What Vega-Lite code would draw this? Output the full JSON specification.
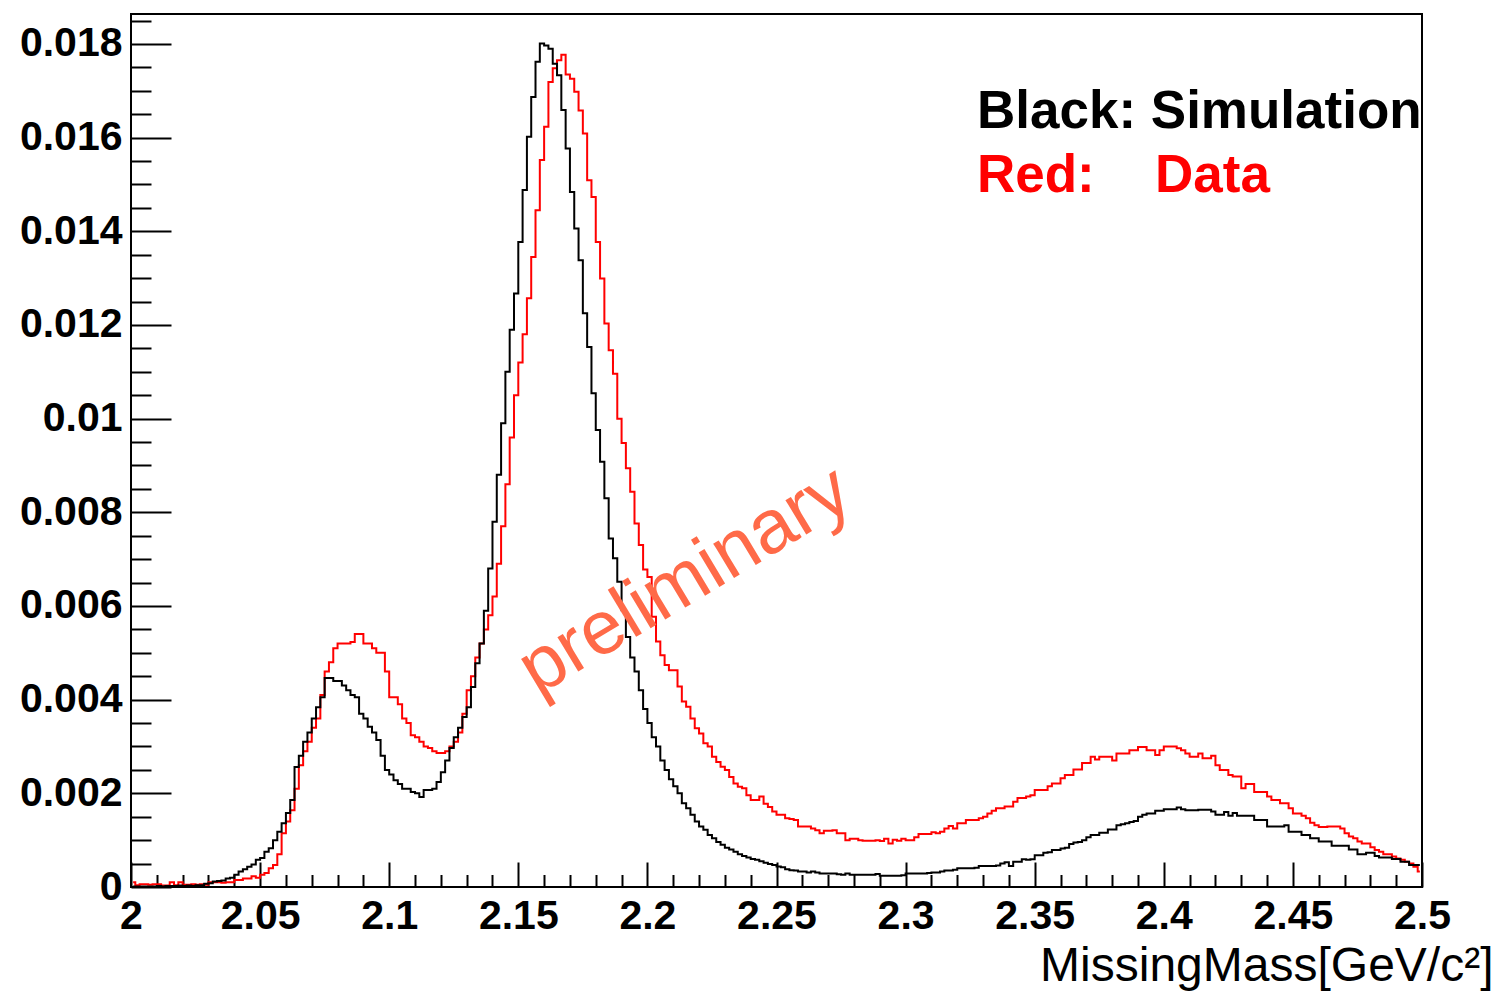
{
  "$schema": "https://vega.github.io/schema/vega-lite/v6.json",
  "width": 1291,
  "height": 873,
  "autosize": {"type": "none"},
  "padding": {"left": 131, "top": 14, "right": 81, "bottom": 107},
  "background": "white",
  "config": {
    "view": {"stroke": "black", "strokeWidth": 2},
    "font": "Liberation Sans",
    "axis": {"domain": false, "grid": false, "tickColor": "black", "labelColor": "black", "titleColor": "black"}
  },
  "datasets": {
    "bins": [
      {"m":2.00083,"sim":0.00001,"dat":0.0001},{"m":2.0025,"sim":0.00001,"dat":0.00004},{"m":2.00417,"sim":0.00001,"dat":0.00006},
      {"m":2.00583,"sim":0.00001,"dat":0.00006},{"m":2.0075,"sim":0.00001,"dat":0.00005},{"m":2.00917,"sim":0.00001,"dat":0.00006},
      {"m":2.01083,"sim":0.00002,"dat":0.00006},{"m":2.0125,"sim":0.00001,"dat":0.00003},{"m":2.01417,"sim":0.00002,"dat":0.00003},
      {"m":2.01583,"sim":0.00002,"dat":0.0001},{"m":2.0175,"sim":0.00002,"dat":0.00004},{"m":2.01917,"sim":0.00003,"dat":0.0001},
      {"m":2.02083,"sim":0.00002,"dat":0.00005},{"m":2.0225,"sim":0.00003,"dat":0.00005},{"m":2.02417,"sim":0.00002,"dat":0.00006},
      {"m":2.02583,"sim":0.00004,"dat":0.00005},{"m":2.0275,"sim":0.00004,"dat":0.00006},{"m":2.02917,"sim":0.00007,"dat":0.00005},
      {"m":2.03083,"sim":0.00008,"dat":0.0001},{"m":2.0325,"sim":0.00012,"dat":0.0001},{"m":2.03417,"sim":0.00013,"dat":0.0001},
      {"m":2.03583,"sim":0.00014,"dat":0.00009},{"m":2.0375,"sim":0.00018,"dat":0.0001},{"m":2.03917,"sim":0.0002,"dat":0.0001},
      {"m":2.04083,"sim":0.00026,"dat":0.00015},{"m":2.0425,"sim":0.00033,"dat":0.00015},{"m":2.04417,"sim":0.00038,"dat":0.00018},
      {"m":2.04583,"sim":0.00043,"dat":0.00018},{"m":2.0475,"sim":0.00048,"dat":0.00023},{"m":2.04917,"sim":0.00058,"dat":0.0002},
      {"m":2.05083,"sim":0.00062,"dat":0.00026},{"m":2.0525,"sim":0.00075,"dat":0.0003},{"m":2.05417,"sim":0.00083,"dat":0.0004},
      {"m":2.05583,"sim":0.001,"dat":0.00047},{"m":2.0575,"sim":0.00118,"dat":0.0007},{"m":2.05917,"sim":0.00136,"dat":0.00115},
      {"m":2.06083,"sim":0.00158,"dat":0.0014},{"m":2.0625,"sim":0.00186,"dat":0.00164},{"m":2.06417,"sim":0.00256,"dat":0.0021},
      {"m":2.06583,"sim":0.0028,"dat":0.0026},{"m":2.0675,"sim":0.0031,"dat":0.0029},{"m":2.06917,"sim":0.0033,"dat":0.0031},
      {"m":2.07083,"sim":0.0036,"dat":0.0034},{"m":2.0725,"sim":0.00384,"dat":0.0036},{"m":2.07417,"sim":0.00405,"dat":0.0041},
      {"m":2.07583,"sim":0.00446,"dat":0.0046},{"m":2.0775,"sim":0.00446,"dat":0.0048},{"m":2.07917,"sim":0.0044,"dat":0.0051},
      {"m":2.08083,"sim":0.0044,"dat":0.0052},{"m":2.0825,"sim":0.0043,"dat":0.0052},{"m":2.08417,"sim":0.0042,"dat":0.0052},
      {"m":2.08583,"sim":0.0041,"dat":0.00523},{"m":2.0875,"sim":0.00405,"dat":0.0054},{"m":2.08917,"sim":0.0037,"dat":0.0054},
      {"m":2.09083,"sim":0.0036,"dat":0.0052},{"m":2.0925,"sim":0.00342,"dat":0.0052},{"m":2.09417,"sim":0.0033,"dat":0.0051},
      {"m":2.09583,"sim":0.00314,"dat":0.005},{"m":2.0975,"sim":0.0028,"dat":0.005},{"m":2.09917,"sim":0.0025,"dat":0.0046},
      {"m":2.10083,"sim":0.0024,"dat":0.00405},{"m":2.1025,"sim":0.00228,"dat":0.00405},{"m":2.10417,"sim":0.0022,"dat":0.0039},
      {"m":2.10583,"sim":0.0021,"dat":0.0036},{"m":2.1075,"sim":0.0021,"dat":0.0035},{"m":2.10917,"sim":0.00203,"dat":0.00324},
      {"m":2.11083,"sim":0.002,"dat":0.0032},{"m":2.1125,"sim":0.00192,"dat":0.0031},{"m":2.11417,"sim":0.00207,"dat":0.003},
      {"m":2.11583,"sim":0.00207,"dat":0.00297},{"m":2.1175,"sim":0.0021,"dat":0.0029},{"m":2.11917,"sim":0.00224,"dat":0.00286},
      {"m":2.12083,"sim":0.00245,"dat":0.00286},{"m":2.1225,"sim":0.0027,"dat":0.0029},{"m":2.12417,"sim":0.00297,"dat":0.003},
      {"m":2.12583,"sim":0.0032,"dat":0.0031},{"m":2.1275,"sim":0.0034,"dat":0.0033},{"m":2.12917,"sim":0.00363,"dat":0.0037},
      {"m":2.13083,"sim":0.00384,"dat":0.0042},{"m":2.1325,"sim":0.00427,"dat":0.0045},{"m":2.13417,"sim":0.00478,"dat":0.0049},
      {"m":2.13583,"sim":0.0052,"dat":0.0052},{"m":2.1375,"sim":0.0059,"dat":0.0055},{"m":2.13917,"sim":0.0068,"dat":0.0058},
      {"m":2.14083,"sim":0.0078,"dat":0.0062},{"m":2.1425,"sim":0.0088,"dat":0.0069},{"m":2.14417,"sim":0.0099,"dat":0.0077},
      {"m":2.14583,"sim":0.011,"dat":0.0086},{"m":2.1475,"sim":0.0119,"dat":0.0096},{"m":2.14917,"sim":0.01267,"dat":0.0105},
      {"m":2.15083,"sim":0.01377,"dat":0.0112},{"m":2.1525,"sim":0.01488,"dat":0.0118},{"m":2.15417,"sim":0.01602,"dat":0.01257},
      {"m":2.15583,"sim":0.01687,"dat":0.01345},{"m":2.1575,"sim":0.01762,"dat":0.01445},{"m":2.15917,"sim":0.01801,"dat":0.01552},
      {"m":2.16083,"sim":0.01797,"dat":0.01623},{"m":2.1625,"sim":0.0179,"dat":0.01719},{"m":2.16417,"sim":0.01758,"dat":0.01748},
      {"m":2.16583,"sim":0.01733,"dat":0.01765},{"m":2.1675,"sim":0.01659,"dat":0.01777},{"m":2.16917,"sim":0.01577,"dat":0.01735},
      {"m":2.17083,"sim":0.01484,"dat":0.01726},{"m":2.1725,"sim":0.01406,"dat":0.01698},{"m":2.17417,"sim":0.01338,"dat":0.01658},
      {"m":2.17583,"sim":0.01225,"dat":0.01609},{"m":2.1775,"sim":0.01153,"dat":0.01509},{"m":2.17917,"sim":0.01054,"dat":0.01473},
      {"m":2.18083,"sim":0.00976,"dat":0.01377},{"m":2.1825,"sim":0.00908,"dat":0.01299},{"m":2.18417,"sim":0.0083,"dat":0.01203},
      {"m":2.18583,"sim":0.00744,"dat":0.01146},{"m":2.1875,"sim":0.00702,"dat":0.01096},{"m":2.18917,"sim":0.00652,"dat":0.01},
      {"m":2.19083,"sim":0.00591,"dat":0.00948},{"m":2.1925,"sim":0.00534,"dat":0.00894},{"m":2.19417,"sim":0.0049,"dat":0.00844},
      {"m":2.19583,"sim":0.0046,"dat":0.00776},{"m":2.1975,"sim":0.0042,"dat":0.0073},{"m":2.19917,"sim":0.0038,"dat":0.00678},
      {"m":2.20083,"sim":0.0035,"dat":0.00662},{"m":2.2025,"sim":0.0032,"dat":0.00577},{"m":2.20417,"sim":0.003,"dat":0.00524},
      {"m":2.20583,"sim":0.0027,"dat":0.00495},{"m":2.2075,"sim":0.0025,"dat":0.00474},{"m":2.20917,"sim":0.0023,"dat":0.00463},
      {"m":2.21083,"sim":0.00215,"dat":0.00463},{"m":2.2125,"sim":0.002,"dat":0.00428},{"m":2.21417,"sim":0.00179,"dat":0.00396},
      {"m":2.21583,"sim":0.00168,"dat":0.00385},{"m":2.2175,"sim":0.00154,"dat":0.0036},{"m":2.21917,"sim":0.0014,"dat":0.00339},
      {"m":2.22083,"sim":0.00129,"dat":0.00328},{"m":2.2225,"sim":0.00122,"dat":0.00307},{"m":2.22417,"sim":0.00111,"dat":0.003},
      {"m":2.22583,"sim":0.00104,"dat":0.00278},{"m":2.2275,"sim":0.00096,"dat":0.00267},{"m":2.22917,"sim":0.0009,"dat":0.00257},
      {"m":2.23083,"sim":0.00084,"dat":0.0025},{"m":2.2325,"sim":0.0008,"dat":0.00235},{"m":2.23417,"sim":0.00075,"dat":0.00221},
      {"m":2.23583,"sim":0.0007,"dat":0.00214},{"m":2.2375,"sim":0.00066,"dat":0.00211},{"m":2.23917,"sim":0.00063,"dat":0.00196},
      {"m":2.24083,"sim":0.0006,"dat":0.00186},{"m":2.2425,"sim":0.00058,"dat":0.00186},{"m":2.24417,"sim":0.00055,"dat":0.00193},
      {"m":2.24583,"sim":0.00052,"dat":0.00178},{"m":2.2475,"sim":0.00049,"dat":0.00171},{"m":2.24917,"sim":0.00047,"dat":0.00161},
      {"m":2.25083,"sim":0.00044,"dat":0.00154},{"m":2.2525,"sim":0.00042,"dat":0.00154},{"m":2.25417,"sim":0.00038,"dat":0.00147},
      {"m":2.25583,"sim":0.00036,"dat":0.00145},{"m":2.2575,"sim":0.00035,"dat":0.00143},{"m":2.25917,"sim":0.00033,"dat":0.00129},
      {"m":2.26083,"sim":0.00033,"dat":0.00129},{"m":2.2625,"sim":0.00031,"dat":0.00129},{"m":2.26417,"sim":0.00033,"dat":0.00125},
      {"m":2.26583,"sim":0.00031,"dat":0.00121},{"m":2.2675,"sim":0.00029,"dat":0.00115},{"m":2.26917,"sim":0.00029,"dat":0.0012},
      {"m":2.27083,"sim":0.00029,"dat":0.0012},{"m":2.2725,"sim":0.00029,"dat":0.00121},{"m":2.27417,"sim":0.00027,"dat":0.00115},
      {"m":2.27583,"sim":0.00026,"dat":0.00115},{"m":2.2775,"sim":0.00029,"dat":0.001},{"m":2.27917,"sim":0.00026,"dat":0.00103},
      {"m":2.28083,"sim":0.00026,"dat":0.00103},{"m":2.2825,"sim":0.00026,"dat":0.001},{"m":2.28417,"sim":0.00026,"dat":0.00099},
      {"m":2.28583,"sim":0.00026,"dat":0.00099},{"m":2.2875,"sim":0.00026,"dat":0.00099},{"m":2.28917,"sim":0.00028,"dat":0.001},
      {"m":2.29083,"sim":0.00024,"dat":0.00098},{"m":2.2925,"sim":0.00024,"dat":0.00103},{"m":2.29417,"sim":0.00024,"dat":0.00093},
      {"m":2.29583,"sim":0.00024,"dat":0.00101},{"m":2.2975,"sim":0.00024,"dat":0.00099},{"m":2.29917,"sim":0.00025,"dat":0.00103},
      {"m":2.30083,"sim":0.00029,"dat":0.001},{"m":2.3025,"sim":0.00029,"dat":0.001},{"m":2.30417,"sim":0.00029,"dat":0.00106},
      {"m":2.30583,"sim":0.00029,"dat":0.00113},{"m":2.3075,"sim":0.00029,"dat":0.00113},{"m":2.30917,"sim":0.0003,"dat":0.00113},
      {"m":2.31083,"sim":0.00031,"dat":0.00117},{"m":2.3125,"sim":0.00031,"dat":0.00115},{"m":2.31417,"sim":0.00033,"dat":0.00118},
      {"m":2.31583,"sim":0.00035,"dat":0.00125},{"m":2.3175,"sim":0.00035,"dat":0.0013},{"m":2.31917,"sim":0.00037,"dat":0.00125},
      {"m":2.32083,"sim":0.0004,"dat":0.00136},{"m":2.3225,"sim":0.0004,"dat":0.00136},{"m":2.32417,"sim":0.0004,"dat":0.00143},
      {"m":2.32583,"sim":0.0004,"dat":0.00143},{"m":2.3275,"sim":0.00041,"dat":0.00143},{"m":2.32917,"sim":0.00045,"dat":0.00147},
      {"m":2.33083,"sim":0.00045,"dat":0.0015},{"m":2.3325,"sim":0.00045,"dat":0.00157},{"m":2.33417,"sim":0.00045,"dat":0.00163},
      {"m":2.33583,"sim":0.00046,"dat":0.00168},{"m":2.3375,"sim":0.0005,"dat":0.00168},{"m":2.33917,"sim":0.00053,"dat":0.00172},
      {"m":2.34083,"sim":0.00045,"dat":0.00172},{"m":2.3425,"sim":0.00054,"dat":0.00182},{"m":2.34417,"sim":0.00054,"dat":0.0019},
      {"m":2.34583,"sim":0.00059,"dat":0.0019},{"m":2.3475,"sim":0.00058,"dat":0.00193},{"m":2.34917,"sim":0.00059,"dat":0.00196},
      {"m":2.35083,"sim":0.00068,"dat":0.00207},{"m":2.3525,"sim":0.00068,"dat":0.00207},{"m":2.35417,"sim":0.00073,"dat":0.00207},
      {"m":2.35583,"sim":0.00074,"dat":0.00215},{"m":2.3575,"sim":0.00079,"dat":0.00221},{"m":2.35917,"sim":0.00079,"dat":0.00221},
      {"m":2.36083,"sim":0.00082,"dat":0.00232},{"m":2.3625,"sim":0.00084,"dat":0.00239},{"m":2.36417,"sim":0.00092,"dat":0.00239},
      {"m":2.36583,"sim":0.00095,"dat":0.00251},{"m":2.3675,"sim":0.00096,"dat":0.00251},{"m":2.36917,"sim":0.001,"dat":0.00265},
      {"m":2.37083,"sim":0.00106,"dat":0.00265},{"m":2.3725,"sim":0.00111,"dat":0.00278},{"m":2.37417,"sim":0.00111,"dat":0.00272},
      {"m":2.37583,"sim":0.00116,"dat":0.00278},{"m":2.3775,"sim":0.00116,"dat":0.00278},{"m":2.37917,"sim":0.00123,"dat":0.00278},
      {"m":2.38083,"sim":0.00123,"dat":0.0027},{"m":2.3825,"sim":0.00132,"dat":0.00285},{"m":2.38417,"sim":0.00134,"dat":0.00285},
      {"m":2.38583,"sim":0.00136,"dat":0.00285},{"m":2.3875,"sim":0.00139,"dat":0.00292},{"m":2.38917,"sim":0.00141,"dat":0.00292},
      {"m":2.39083,"sim":0.0015,"dat":0.00299},{"m":2.3925,"sim":0.00154,"dat":0.00299},{"m":2.39417,"sim":0.00157,"dat":0.00292},
      {"m":2.39583,"sim":0.00157,"dat":0.00292},{"m":2.3975,"sim":0.00163,"dat":0.00282},{"m":2.39917,"sim":0.00163,"dat":0.00292},
      {"m":2.40083,"sim":0.00166,"dat":0.003},{"m":2.4025,"sim":0.00166,"dat":0.003},{"m":2.40417,"sim":0.00166,"dat":0.003},
      {"m":2.40583,"sim":0.0017,"dat":0.00296},{"m":2.4075,"sim":0.00166,"dat":0.00292},{"m":2.40917,"sim":0.00164,"dat":0.00285},
      {"m":2.41083,"sim":0.00164,"dat":0.00278},{"m":2.4125,"sim":0.00164,"dat":0.00278},{"m":2.41417,"sim":0.00165,"dat":0.00285},
      {"m":2.41583,"sim":0.00165,"dat":0.00275},{"m":2.4175,"sim":0.00165,"dat":0.00275},{"m":2.41917,"sim":0.00161,"dat":0.0028},
      {"m":2.42083,"sim":0.00154,"dat":0.0026},{"m":2.4225,"sim":0.00154,"dat":0.0025},{"m":2.42417,"sim":0.0016,"dat":0.0025},
      {"m":2.42583,"sim":0.00152,"dat":0.00239},{"m":2.4275,"sim":0.00158,"dat":0.00236},{"m":2.42917,"sim":0.00152,"dat":0.00236},
      {"m":2.43083,"sim":0.00152,"dat":0.00211},{"m":2.4325,"sim":0.00152,"dat":0.0022},{"m":2.43417,"sim":0.00152,"dat":0.0022},
      {"m":2.43583,"sim":0.00143,"dat":0.00203},{"m":2.4375,"sim":0.00143,"dat":0.00203},{"m":2.43917,"sim":0.00143,"dat":0.00203},
      {"m":2.44083,"sim":0.00129,"dat":0.00193},{"m":2.4425,"sim":0.00129,"dat":0.00186},{"m":2.44417,"sim":0.00129,"dat":0.00186},
      {"m":2.44583,"sim":0.00129,"dat":0.00179},{"m":2.4475,"sim":0.00132,"dat":0.00179},{"m":2.44917,"sim":0.00118,"dat":0.00168},
      {"m":2.45083,"sim":0.00118,"dat":0.00157},{"m":2.4525,"sim":0.00118,"dat":0.00157},{"m":2.45417,"sim":0.00111,"dat":0.00152},
      {"m":2.45583,"sim":0.00111,"dat":0.00147},{"m":2.4575,"sim":0.00104,"dat":0.00137},{"m":2.45917,"sim":0.00104,"dat":0.00132},
      {"m":2.46083,"sim":0.00097,"dat":0.00128},{"m":2.4625,"sim":0.00097,"dat":0.00128},{"m":2.46417,"sim":0.00097,"dat":0.00129},
      {"m":2.46583,"sim":0.00088,"dat":0.00129},{"m":2.4675,"sim":0.00088,"dat":0.00129},{"m":2.46917,"sim":0.00088,"dat":0.00125},
      {"m":2.47083,"sim":0.00088,"dat":0.00115},{"m":2.4725,"sim":0.0008,"dat":0.00108},{"m":2.47417,"sim":0.0008,"dat":0.00104},
      {"m":2.47583,"sim":0.0007,"dat":0.00097},{"m":2.4775,"sim":0.0007,"dat":0.00093},{"m":2.47917,"sim":0.00073,"dat":0.00093},
      {"m":2.48083,"sim":0.00073,"dat":0.00085},{"m":2.4825,"sim":0.00066,"dat":0.00079},{"m":2.48417,"sim":0.00063,"dat":0.00075},
      {"m":2.48583,"sim":0.00063,"dat":0.0007},{"m":2.4875,"sim":0.00063,"dat":0.0007},{"m":2.48917,"sim":0.0006,"dat":0.00065},
      {"m":2.49083,"sim":0.0006,"dat":0.00061},{"m":2.4925,"sim":0.00054,"dat":0.00058},{"m":2.49417,"sim":0.00054,"dat":0.00054},
      {"m":2.49583,"sim":0.00047,"dat":0.0005},{"m":2.4975,"sim":0.00047,"dat":0.00043},{"m":2.49917,"sim":0.00047,"dat":0.00033}
    ]
  },
  "resolve": {"axis": {"x": "independent", "y": "independent"}},
  "layer": [
    {
      "data": {"name": "bins"},
      "mark": {"type": "line", "interpolate": "step", "stroke": "#ff0000", "strokeWidth": 2},
      "encoding": {
        "x": {
          "field": "m", "type": "quantitative",
          "scale": {"domain": [2, 2.5], "nice": false, "zero": false},
          "axis": {
            "orient": "bottom",
            "values": [2, 2.05, 2.1, 2.15, 2.2, 2.25, 2.3, 2.35, 2.4, 2.45, 2.5],
            "format": "~g",
            "ticks": false, "domain": false,
            "labelFont": "Liberation Sans", "labelFontWeight": "bold", "labelFontSize": 41,
            "labelPadding": 9, "labelFlush": false, "labelOverlap": false, "labelBound": false,
            "title": "MissingMass[GeV/c²]",
            "titleFont": "Liberation Sans", "titleFontWeight": "normal", "titleFontSize": 48,
            "titleAnchor": "end", "titleAlign": "right", "titleBaseline": "alphabetic",
            "titleX": 1362, "titleY": 93
          }
        },
        "y": {
          "field": "dat", "type": "quantitative",
          "scale": {"domain": [0, 0.01864], "nice": false},
          "axis": {
            "orient": "left",
            "values": [0, 0.002, 0.004, 0.006, 0.008, 0.01, 0.012, 0.014, 0.016, 0.018],
            "format": "~g",
            "ticks": false, "domain": false,
            "labelFont": "Liberation Sans", "labelFontWeight": "bold", "labelFontSize": 41,
            "labelPadding": 9, "labelFlush": false, "labelOverlap": false, "labelBound": false,
            "title": null
          }
        }
      }
    },
    {
      "data": {"name": "bins"},
      "mark": {"type": "line", "interpolate": "step", "stroke": "#000000", "strokeWidth": 2},
      "encoding": {
        "x": {
          "field": "m", "type": "quantitative",
          "scale": {"domain": [2, 2.5], "nice": false, "zero": false},
          "axis": {
            "orient": "bottom",
            "values": [2, 2.05, 2.1, 2.15, 2.2, 2.25, 2.3, 2.35, 2.4, 2.45, 2.5],
            "labels": false, "domain": false, "tickSize": -25, "tickWidth": 2, "title": null
          }
        },
        "y": {
          "field": "sim", "type": "quantitative",
          "scale": {"domain": [0, 0.01864], "nice": false},
          "axis": {
            "orient": "left",
            "values": [0, 0.002, 0.004, 0.006, 0.008, 0.01, 0.012, 0.014, 0.016, 0.018],
            "labels": false, "domain": false, "tickSize": -40, "tickWidth": 2, "title": null
          }
        }
      }
    },
    {
      "data": {"values": [{}]},
      "mark": {"type": "text", "text": "Black: Simulation", "font": "Liberation Sans", "fontWeight": "bold", "fontSize": 53, "color": "#000000", "align": "left", "baseline": "alphabetic"},
      "encoding": {
        "x": {
          "datum": 2.32765, "type": "quantitative",
          "scale": {"domain": [2, 2.5], "nice": false, "zero": false},
          "axis": {
            "orient": "bottom",
            "values": [2.01, 2.02, 2.03, 2.04, 2.06, 2.07, 2.08, 2.09, 2.11, 2.12, 2.13, 2.14, 2.16, 2.17, 2.18, 2.19, 2.21, 2.22, 2.23, 2.24, 2.26, 2.27, 2.28, 2.29, 2.31, 2.32, 2.33, 2.34, 2.36, 2.37, 2.38, 2.39, 2.41, 2.42, 2.43, 2.44, 2.46, 2.47, 2.48, 2.49],
            "labels": false, "domain": false, "tickSize": -12.5, "tickWidth": 2, "title": null
          }
        },
        "y": {
          "datum": 0.0162, "type": "quantitative",
          "scale": {"domain": [0, 0.01864], "nice": false},
          "axis": {
            "orient": "left",
            "values": [0.0005, 0.001, 0.0015, 0.0025, 0.003, 0.0035, 0.0045, 0.005, 0.0055, 0.0065, 0.007, 0.0075, 0.0085, 0.009, 0.0095, 0.0105, 0.011, 0.0115, 0.0125, 0.013, 0.0135, 0.0145, 0.015, 0.0155, 0.0165, 0.017, 0.0175, 0.0185],
            "labels": false, "domain": false, "tickSize": -20, "tickWidth": 2, "title": null
          }
        }
      }
    },
    {
      "data": {"values": [{}]},
      "mark": {"type": "text", "text": "Red:", "font": "Liberation Sans", "fontWeight": "bold", "fontSize": 53, "color": "#ff0000", "align": "left", "baseline": "alphabetic"},
      "encoding": {
        "x": {"datum": 2.32765, "type": "quantitative", "scale": {"domain": [2, 2.5], "nice": false, "zero": false}, "axis": null},
        "y": {"datum": 0.014835, "type": "quantitative", "scale": {"domain": [0, 0.01864], "nice": false}, "axis": null}
      }
    },
    {
      "data": {"values": [{}]},
      "mark": {"type": "text", "text": "Data", "font": "Liberation Sans", "fontWeight": "bold", "fontSize": 53, "color": "#ff0000", "align": "left", "baseline": "alphabetic"},
      "encoding": {
        "x": {"datum": 2.39659, "type": "quantitative", "scale": {"domain": [2, 2.5], "nice": false, "zero": false}, "axis": null},
        "y": {"datum": 0.014835, "type": "quantitative", "scale": {"domain": [0, 0.01864], "nice": false}, "axis": null}
      }
    },
    {
      "data": {"values": [{}]},
      "mark": {"type": "text", "text": "preliminary", "font": "Liberation Sans", "fontWeight": "normal", "fontSize": 76, "color": "#ff6a48", "align": "center", "baseline": "middle", "angle": -31},
      "encoding": {
        "x": {"datum": 2.21456, "type": "quantitative", "scale": {"domain": [2, 2.5], "nice": false, "zero": false}, "axis": null},
        "y": {"datum": 0.00654, "type": "quantitative", "scale": {"domain": [0, 0.01864], "nice": false}, "axis": null}
      }
    }
  ]
}
